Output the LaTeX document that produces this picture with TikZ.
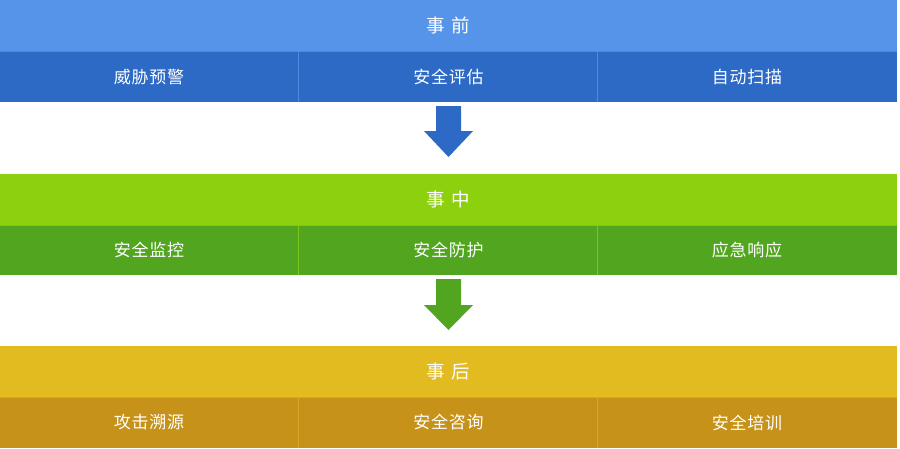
\documentclass[tikz,border=0pt]{standalone}
\usepackage{fontspec}
\setmainfont{Noto Sans CJK SC}
\definecolor{bluehead}{HTML}{5594E8}
\definecolor{bluerow}{HTML}{2C6AC6}
\definecolor{blueline}{HTML}{4C8BE0}
\definecolor{greenhead}{HTML}{8DD10E}
\definecolor{greenrow}{HTML}{52A61F}
\definecolor{greenline}{HTML}{7CC61A}
\definecolor{goldhead}{HTML}{E2BB21}
\definecolor{goldrow}{HTML}{C79219}
\definecolor{goldline}{HTML}{D6A828}
\tikzset{
  headtxt/.style={text=white,font=\fontsize{18.5}{22}\selectfont},
  rowtxt/.style={text=white,font=\fontsize{17}{20}\selectfont\addfontfeature{LetterSpace=4}},
}
\newcommand{\myband}[8]{%
  % #1 top, #2 mid, #3 bottom, #4 head colour, #5 row colour, #6 line colour, #7 title, #8 name prefix
  \fill[#4] (0,#1) rectangle (897,#2);
  \fill[#5] (0,#2) rectangle (897,#3);
  \draw[#6,line width=1pt] (0,#2+0.5) -- (897,#2+0.5);
  \draw[#6,line width=1pt] (298.5,#2) -- (298.5,#3);
  \draw[#6,line width=1pt] (597.5,#2) -- (597.5,#3);
  \node[headtxt] (#8h) at (448.5,{(#1+#2)/2}) {#7};
}
\newcommand{\myarrow}[5]{%
  % #1 top, #2 head start, #3 tip, #4 colour, #5 name
  \fill[#4] (436,#1) -- (461,#1) -- (461,#2) -- (473,#2) -- (448.5,#3) -- (424,#2) -- (436,#2) -- cycle;
  \coordinate (#5) at (448.5,#1);
}
\begin{document}
\begin{tikzpicture}[x=1pt,y=-1pt]
\useasboundingbox (0,0) rectangle (900,448);
\fill[white] (0,0) rectangle (900,448);
% band 1
\myband{0}{51}{102}{bluehead}{bluerow}{blueline}{事\hspace{7pt}前}{b1}
\node[rowtxt] (b1a) at (149,77) {威胁预警};
\node[rowtxt] (b1b) at (448.5,77) {安全评估};
\node[rowtxt] (b1c) at (747,77) {自动扫描};
\myarrow{106}{131}{157}{bluerow}{a1}
% band 2
\myband{173.5}{224.5}{275}{greenhead}{greenrow}{greenline}{事\hspace{7pt}中}{b2}
\node[rowtxt] (b2a) at (149,250) {安全监控};
\node[rowtxt] (b2b) at (448.5,250) {安全防护};
\node[rowtxt] (b2c) at (747,250) {应急响应};
\myarrow{279}{305}{330}{greenrow}{a2}
% band 3
\myband{345.5}{397}{448}{goldhead}{goldrow}{goldline}{事\hspace{7pt}后}{b3}
\node[rowtxt] (b3a) at (149,422.5) {攻击溯源};
\node[rowtxt] (b3b) at (448.5,422.5) {安全咨询};
\node[rowtxt] (b3c) at (747,422.5) {安全培训};
\end{tikzpicture}
\end{document}
